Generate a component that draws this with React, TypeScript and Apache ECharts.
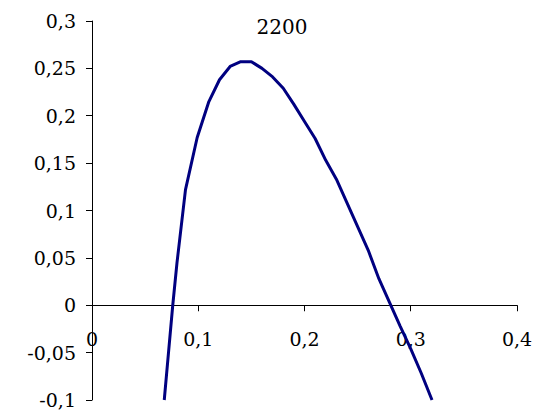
import React, { useEffect, useRef } from "react";
import * as echarts from "echarts";

const chartTitle = "2200";
const xValues = [0.068, 0.072, 0.076, 0.080, 0.088, 0.099, 0.110, 0.120, 0.130, 0.140, 0.150, 0.160, 0.170, 0.180, 0.190, 0.200, 0.210, 0.220, 0.230, 0.240, 0.250, 0.260, 0.270, 0.280, 0.290, 0.300, 0.310, 0.320];
const yValues = [-0.100, -0.050, 0.000, 0.045, 0.122, 0.177, 0.215, 0.238, 0.252, 0.257, 0.257, 0.250, 0.241, 0.229, 0.212, 0.194, 0.176, 0.153, 0.133, 0.108, 0.083, 0.058, 0.028, 0.003, -0.022, -0.046, -0.072, -0.100];
const yMin = -0.1;
const yMax = 0.3;

const fmt = (v: number) => {
  const r = Math.round(v * 1000) / 1000;
  return String(r).replace(".", ",");
};

export default function App() {
  const ref = useRef<HTMLDivElement>(null);
  useEffect(() => {
    document.body.style.margin = "0";
    const chart = echarts.init(ref.current!, null, { renderer: "svg" });
    const font = "DejaVu Serif";
    const gridTop = 21;
    const gridBottom = 11;
    const gridH = 411 - gridTop - gridBottom;
    const zeroOffset = -gridH * (0 - yMin) / (yMax - yMin);
    chart.setOption({
      animation: false,
      backgroundColor: "#ffffff",
      title: {
        text: chartTitle,
        left: 277,
        top: 12,
        textAlign: "center",
        textStyle: { fontFamily: font, fontSize: 20, fontWeight: "normal", color: "#000" },
      },
      grid: { left: 92, right: 28, top: gridTop, bottom: gridBottom, containLabel: false, outerBoundsMode: "none" },
      xAxis: {
        type: "value",
        min: 0,
        max: 0.4,
        interval: 0.1,
        position: "bottom",
        offset: zeroOffset,
        axisLine: { show: true, onZero: false, lineStyle: { color: "#000", width: 1 } },
        axisTick: { show: true, inside: false, length: 6, lineStyle: { color: "#000" } },
        axisLabel: {
          margin: 24,
          fontFamily: font,
          fontSize: 19,
          color: "#000",
          showMinLabel: true,
          showMaxLabel: true,
          formatter: fmt,
        },
        splitLine: { show: false },
      },
      yAxis: {
        type: "value",
        min: yMin,
        max: yMax,
        interval: 0.05,
        axisLine: { show: true, onZero: false, lineStyle: { color: "#000", width: 1 } },
        axisTick: { show: true, inside: false, length: 6, lineStyle: { color: "#000" } },
        axisLabel: {
          margin: 16,
          fontFamily: font,
          fontSize: 19,
          color: "#000",
          formatter: fmt,
        },
        splitLine: { show: false },
      },
      series: [
        {
          type: "line",
          data: xValues.map((x, i) => [x, yValues[i]]),
          showSymbol: false,
          smooth: false,
          clip: true,
          lineStyle: { color: "#000080", width: 3 },
        },
      ],
    });
    return () => chart.dispose();
  }, []);
  return <div ref={ref} style={{ width: 545, height: 411, position: "absolute", left: 0, top: 0 }} />;
}
